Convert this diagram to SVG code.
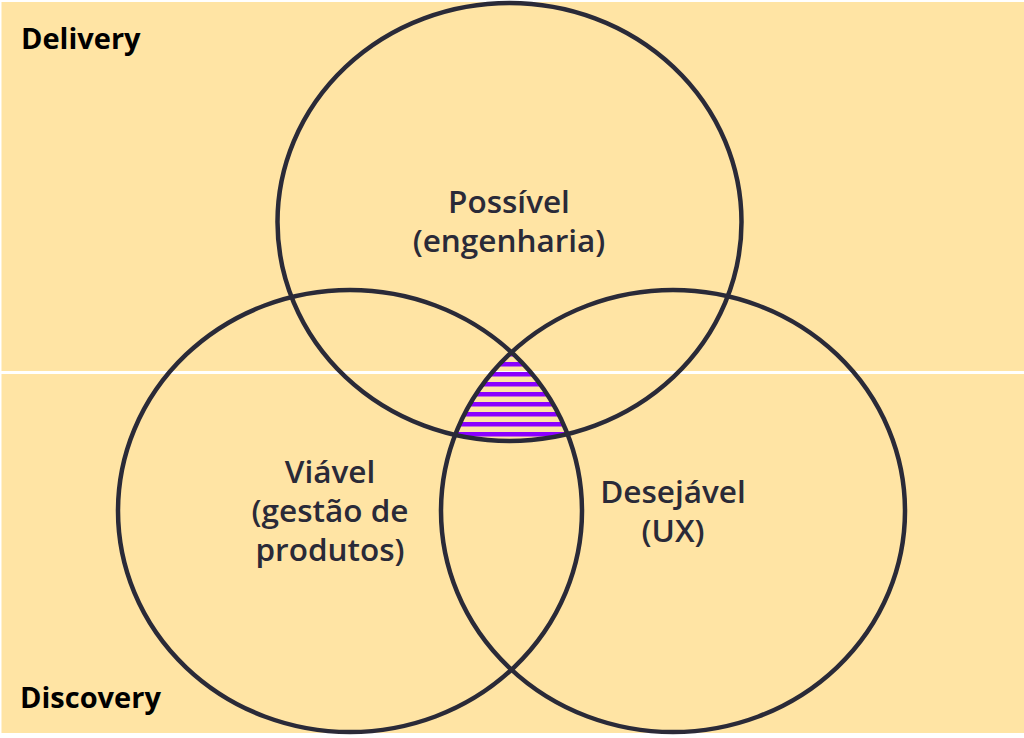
<svg xmlns="http://www.w3.org/2000/svg" width="1024" height="738" viewBox="0 0 1024 738">
<style>
.bg{fill:#FFE4A4}
.ring{fill:none;stroke:#2A2A38;stroke-width:4.5}
.lbl{font-family:"Open Sans","Noto Sans",sans-serif;font-size:31.5px;font-weight:600;fill:#2A2A38;text-anchor:middle}
.zone{font-family:"Open Sans","Noto Sans",sans-serif;font-size:29px;font-weight:700;fill:#000}
</style>
<defs>
<pattern id="stripes" patternUnits="userSpaceOnUse" x="0" y="2" width="20" height="10">
<rect x="0" y="0" width="20" height="4.5" fill="#8A00FF"/>
</pattern>
<clipPath id="cT"><ellipse cx="509.5" cy="222" rx="232" ry="219"/></clipPath>
<clipPath id="cL"><ellipse cx="350" cy="511" rx="232" ry="221"/></clipPath>
<clipPath id="cR"><ellipse cx="673" cy="511" rx="232" ry="221"/></clipPath>
</defs>
<rect width="1024" height="738" fill="#FFFFFF"/>
<g id="zones">
<rect class="bg" x="1.5" y="2" width="1022.5" height="369"/>
<rect class="bg" x="1.5" y="374" width="1022.5" height="359"/>
<text class="zone" x="21" y="49">Delivery</text>
<text class="zone" x="20" y="708">Discovery</text>
</g>
<g id="intersection" clip-path="url(#cT)">
<g clip-path="url(#cL)">
<rect x="440" y="340" width="150" height="110" fill="url(#stripes)" clip-path="url(#cR)"/>
</g>
</g>
<g id="possivel">
<ellipse class="ring" cx="509.5" cy="222" rx="232" ry="219"/>
<text class="lbl" x="509" y="213">Possível</text>
<text class="lbl" x="509" y="252">(engenharia)</text>
</g>
<g id="viavel">
<ellipse class="ring" cx="350" cy="511" rx="232" ry="221"/>
<text class="lbl" x="330" y="483">Viável</text>
<text class="lbl" x="330" y="522">(gestão de</text>
<text class="lbl" x="330" y="561">produtos)</text>
</g>
<g id="desejavel">
<ellipse class="ring" cx="673" cy="511" rx="232" ry="221"/>
<text class="lbl" x="673" y="503">Desejável</text>
<text class="lbl" x="673" y="542">(UX)</text>
</g>
<g id="connectors"/>
</svg>
